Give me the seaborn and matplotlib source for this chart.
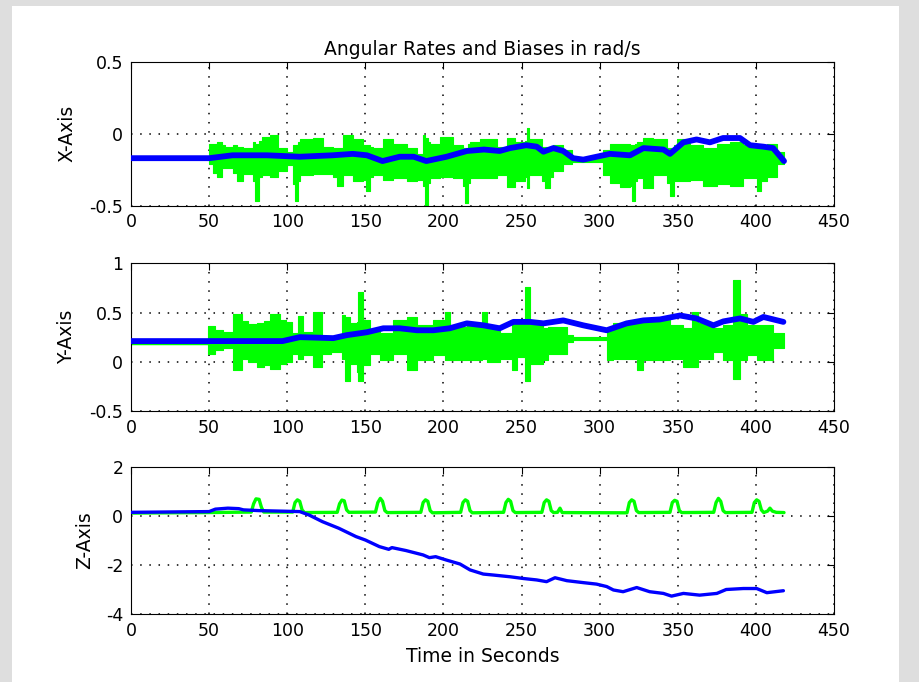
import numpy as np
import pandas as pd
import matplotlib
matplotlib.use("Agg")
import matplotlib.pyplot as plt
from matplotlib.patches import Rectangle
import seaborn as sns

# ---------------- data ----------------
title = "Angular Rates and Biases in rad/s"
xlabel = "Time in Seconds"
ylabels = ["X-Axis", "Y-Axis", "Z-Axis"]
x_ticks = [0, 50, 100, 150, 200, 250, 300, 350, 400, 450]
x_ticklabels = ["0", "50", "100", "150", "200", "250", "300", "350", "400", "450"]
y_ticks_1 = [-0.5, 0, 0.5]
y_ticklabels_1 = ["-0.5", "0", "0.5"]
y_ticks_2 = [-0.5, 0, 0.5, 1]
y_ticklabels_2 = ["-0.5", "0", "0.5", "1"]
y_ticks_3 = [-4, -2, 0, 2]
y_ticklabels_3 = ["-4", "-2", "0", "2"]
data_end = 418

# X-axis: measured rate envelope (segment start, max, min)
x_rate_t = [50, 52.7, 55, 58, 60, 65.5, 68, 72, 78.3, 79.5, 82, 83.6, 89, 94.3, 99.6,
            104, 105, 107, 108, 116.7, 123, 129.5, 132, 136, 142.3, 148.7, 150.5, 153,
            155, 161.5, 168, 176.5, 183, 187, 188, 190, 191.4, 197.8, 206.4, 212.8, 214,
            216, 217, 223.4, 234, 240.5, 245.8, 252.2, 253.5, 255, 262.9, 265, 268, 270.3,
            276.7, 282, 302, 306.6, 313, 319.4, 320.5, 322.5, 323.7, 328, 334.4, 343, 345,
            347.5, 349.3, 357.8, 366.4, 374.9, 383.4, 392, 400.5, 403, 406.9, 413.3]
x_rate_hi = [-0.07, -0.07, -0.06, -0.08, -0.09, -0.08, -0.09, -0.10, -0.06, -0.07, -0.05, -0.02, -0.01, -0.10, -0.13,
             -0.08, -0.08, -0.06, -0.04, -0.03, -0.09, -0.10, -0.10, -0.01, -0.04, -0.08, -0.08, -0.09,
             -0.10, -0.04, -0.07, -0.10, -0.14, -0.01, -0.03, -0.06, -0.07, -0.02, -0.08, -0.10, -0.10,
             -0.07, -0.06, -0.04, -0.09, -0.03, -0.06, -0.05, 0.04, -0.04, -0.09, -0.09, -0.09, -0.08,
             -0.11, -0.17, -0.11, -0.07, -0.07, -0.08, -0.08, -0.07, -0.06, -0.03, -0.04, -0.10, -0.10,
             -0.08, -0.04, -0.08, -0.10, -0.07, -0.06, -0.08, -0.09, -0.09, -0.07, -0.13]
x_rate_lo = [-0.21, -0.27, -0.30, -0.24, -0.24, -0.27, -0.33, -0.28, -0.33, -0.47, -0.30, -0.29, -0.30, -0.26, -0.22,
             -0.35, -0.47, -0.33, -0.29, -0.28, -0.28, -0.30, -0.36, -0.29, -0.33, -0.32, -0.40, -0.30,
             -0.29, -0.32, -0.31, -0.33, -0.32, -0.36, -0.50, -0.34, -0.31, -0.30, -0.31, -0.36, -0.48,
             -0.34, -0.31, -0.31, -0.29, -0.37, -0.33, -0.30, -0.38, -0.29, -0.33, -0.38, -0.30, -0.26,
             -0.21, -0.20, -0.29, -0.34, -0.37, -0.36, -0.47, -0.33, -0.31, -0.38, -0.29, -0.34, -0.43,
             -0.33, -0.33, -0.32, -0.36, -0.35, -0.36, -0.31, -0.40, -0.33, -0.30, -0.21]
x_rate_pre_t = [0, 50]
x_rate_pre = [-0.17, -0.17]
x_bias_t = [0, 50, 65, 87, 108, 129, 142, 151, 161, 172, 181, 189, 202, 215, 226, 236, 242.6,
            253, 259.7, 264, 270.3, 276.7, 283, 289.5, 298, 306.6, 319.4, 328, 340.8, 345, 353.6,
            362, 370.6, 379, 389.8, 396.3, 404.8, 411, 416.5, 418]
x_bias = [-0.17, -0.17, -0.15, -0.15, -0.16, -0.15, -0.14, -0.15, -0.19, -0.16, -0.16, -0.19, -0.16,
          -0.12, -0.11, -0.12, -0.10, -0.08, -0.09, -0.125, -0.10, -0.12, -0.17, -0.18, -0.16, -0.14,
          -0.15, -0.10, -0.11, -0.14, -0.06, -0.04, -0.06, -0.03, -0.03, -0.08, -0.09, -0.10, -0.17, -0.19]

# Y-axis
y_rate_t = [49.5, 53.8, 59.1, 65.5, 70.8, 75, 80.4, 85, 89, 95.4, 99, 102.9, 107.1, 110.3, 116.7,
            122.1, 128, 134.9, 137, 140.2, 144.5, 145.5, 148.7, 153, 159.4, 168, 176.5, 182.9,
            193.6, 201, 204.2, 214.9, 224.5, 227.7, 236.2, 243.7, 246.9, 252.2, 255.4, 263.9,
            267.1, 278.9, 283.1, 304.5, 308.8, 323.7, 328, 345, 353.6, 359, 363.2, 372.8, 379.2,
            385.6, 389.8, 394.1, 400.5, 411.2]
y_rate_hi = [0.36, 0.32, 0.30, 0.49, 0.41, 0.38, 0.39, 0.41, 0.49, 0.42, 0.40, 0.29, 0.46, 0.30, 0.51,
             0.25, 0.26, 0.47, 0.45, 0.39, 0.40, 0.71, 0.42, 0.32, 0.29, 0.42, 0.455, 0.37,
             0.42, 0.51, 0.355, 0.39, 0.51, 0.34, 0.29, 0.39, 0.42, 0.76, 0.37, 0.34,
             0.355, 0.27, 0.25, 0.34, 0.39, 0.42, 0.42, 0.37, 0.34, 0.51, 0.39, 0.34, 0.37,
             0.83, 0.49, 0.37, 0.37, 0.29]
y_rate_lo = [0.08, 0.12, 0.14, -0.08, 0.03, 0.00, -0.05, -0.03, -0.07, -0.02, 0.00, 0.08, 0.03, 0.07, -0.05,
             0.08, 0.10, 0.03, -0.20, -0.02, -0.10, -0.20, -0.03, 0.08, 0.02, 0.08, -0.08, 0.02,
             0.07, 0.02, 0.02, 0.02, 0.03, 0.00, 0.03, -0.08, 0.05, -0.20, -0.02, 0.02,
             0.08, 0.20, 0.22, 0.02, 0.03, -0.08, 0.02, 0.03, -0.05, -0.05, 0.03, 0.10, 0.02,
             -0.17, 0.02, 0.07, 0.02, 0.14]
y_rate_pre_t = [0, 50]
y_rate_pre = [0.19, 0.19]
y_bias_t = [0, 50, 97, 108, 129.5, 138, 151, 161.5, 172, 183, 193.6, 204, 215, 225.6, 236, 244.8,
            255.4, 264, 276.7, 289.5, 304.5, 317.3, 328, 338.6, 351.4, 362, 372.8, 379.2, 389.8,
            398.4, 404.8, 417.6]
y_bias = [0.21, 0.21, 0.21, 0.25, 0.24, 0.27, 0.30, 0.34, 0.34, 0.32, 0.32, 0.34, 0.39, 0.37, 0.34,
          0.405, 0.405, 0.39, 0.42, 0.37, 0.32, 0.39, 0.42, 0.43, 0.47, 0.44, 0.37, 0.41, 0.44,
          0.405, 0.455, 0.405]

# Z-axis
z_rate_t = [0, 48, 77, 78.5, 80, 82, 83.5, 85, 103.5, 105, 106.5, 108, 109.5, 111, 132, 133.5, 135,
            136.5, 138, 139.5, 156.5, 158, 159.6, 161, 162.5, 164, 185.5, 187, 188.5, 190, 191.5,
            193, 211, 212.5, 214, 215.5, 217, 218.5, 238.5, 240, 241.5, 243, 244.5, 246, 263,
            264.5, 266, 267.5, 269, 270.5, 273, 274.6, 276, 317.5, 319, 320.5, 322, 323.5, 325,
            345, 346.5, 348, 349.5, 351, 352.5, 373, 374.5, 376, 377.5, 379, 380.5, 397.5, 399,
            400.5, 402, 403.5, 405, 407.5, 409, 410.5, 413, 418]
z_rate = [0.12, 0.14, 0.16, 0.50, 0.70, 0.68, 0.35, 0.16, 0.16, 0.55, 0.66, 0.60, 0.25, 0.14, 0.15, 0.50, 0.65,
          0.62, 0.25, 0.15, 0.16, 0.55, 0.72, 0.60, 0.22, 0.14, 0.15, 0.55, 0.66, 0.60, 0.22,
          0.13, 0.15, 0.55, 0.66, 0.60, 0.22, 0.13, 0.15, 0.55, 0.68, 0.60, 0.22, 0.14, 0.15,
          0.55, 0.66, 0.60, 0.22, 0.14, 0.15, 0.32, 0.14, 0.13, 0.55, 0.66, 0.60, 0.22, 0.14,
          0.15, 0.55, 0.64, 0.60, 0.22, 0.14, 0.15, 0.55, 0.72, 0.60, 0.22, 0.14, 0.15, 0.55,
          0.66, 0.60, 0.25, 0.14, 0.20, 0.32, 0.20, 0.15, 0.14]
z_bias_t = [0, 50, 54, 62, 69, 72, 82, 95, 108, 114, 122.5, 133, 144, 150, 159, 165, 167, 176, 187,
            191, 195, 202, 210.6, 217, 225.5, 232, 242.6, 251, 259.7, 266, 271.4, 279, 289.6, 298,
            304.5, 308.8, 315, 323.7, 332, 340.8, 346, 353.6, 364, 375, 381, 392, 400.5, 407, 417.6]
z_bias = [0.15, 0.18, 0.28, 0.32, 0.30, 0.25, 0.22, 0.20, 0.18, 0.04, -0.23, -0.50, -0.84, -0.98,
          -1.25, -1.36, -1.29, -1.41, -1.59, -1.70, -1.66, -1.80, -1.96, -2.20, -2.37, -2.41, -2.48,
          -2.55, -2.61, -2.68, -2.52, -2.64, -2.72, -2.78, -2.88, -3.02, -3.09, -2.92, -3.09, -3.16,
          -3.27, -3.16, -3.23, -3.16, -3.00, -2.96, -2.96, -3.13, -3.05]

# ---------------- style ----------------
sns.set_style("white")
plt.rcParams["font.family"] = ["DejaVu Sans"]
plt.rcParams["axes.unicode_minus"] = False

GREEN = "#00ff00"
BLUE = "#0000ff"
W, H = 919, 682

fig = plt.figure(figsize=(W / 100, H / 100), dpi=100, facecolor="#dedede")
fig.patches.append(Rectangle((12 / W, 0), (899 - 12) / W, (H - 6) / H,
                             transform=fig.transFigure, facecolor="white",
                             edgecolor="none", zorder=-10))

left = 131 / W
width = (834 - 131) / W
boxes = [(61.7, 205.7), (263.3, 411.0), (467.0, 614.0)]
ylims = [(-0.5, 0.5), (-0.5, 1.0), (-4, 2)]
yticks = [y_ticks_1, y_ticks_2, y_ticks_3]
yticklabels = [y_ticklabels_1, y_ticklabels_2, y_ticklabels_3]
label_x = [-0.078, -0.078, -0.052]

axes = []
for i, (top, bot) in enumerate(boxes):
    ax = fig.add_axes([left, 1 - bot / H, width, (bot - top) / H])
    ax.set_facecolor("white")
    ax.set_xlim(0, 450)
    ax.set_ylim(*ylims[i])
    ax.set_xticks(x_ticks)
    ax.set_xticklabels(x_ticklabels)
    ax.set_yticks(yticks[i])
    ax.set_yticklabels(yticklabels[i])
    ax.set_axisbelow(True)
    ax.grid(True, color="black", linestyle=(0, (1, 5)), linewidth=1.1)
    ax.tick_params(axis="both", direction="in", length=5, width=0.8, colors="black",
                   top=True, right=True, labelsize=12.5)
    ax.tick_params(axis="x", pad=5.5)
    ax.tick_params(axis="y", pad=5.5)
    for s in ax.spines.values():
        s.set_color("black")
        s.set_linewidth(0.8)
        s.set_visible(True)
    ax.set_ylabel(ylabels[i], fontsize=13.5, color="black")
    ax.yaxis.set_label_coords(label_x[i], 0.5)
    axes.append(ax)


def band(ax, t, hi, lo):
    te = list(t) + [data_end]
    he = list(hi) + [hi[-1]]
    le = list(lo) + [lo[-1]]
    ax.fill_between(te, le, he, step="post", color=GREEN, linewidth=0.8,
                    edgecolor=GREEN, zorder=2)


# X panel
ax = axes[0]
sns.lineplot(x=x_rate_pre_t, y=x_rate_pre, ax=ax, color=GREEN, linewidth=2.5,
             estimator=None, sort=False, zorder=2)
band(ax, x_rate_t, x_rate_hi, x_rate_lo)
sns.lineplot(x=x_bias_t, y=x_bias, ax=ax, color=BLUE, linewidth=4.2,
             estimator=None, sort=False, zorder=3)

# Y panel
ax = axes[1]
sns.lineplot(x=y_rate_pre_t, y=y_rate_pre, ax=ax, color=GREEN, linewidth=2.5,
             estimator=None, sort=False, zorder=2)
band(ax, y_rate_t, y_rate_hi, y_rate_lo)
sns.lineplot(x=y_bias_t, y=y_bias, ax=ax, color=BLUE, linewidth=4.2,
             estimator=None, sort=False, zorder=3)

# Z panel
ax = axes[2]
sns.lineplot(x=z_rate_t, y=z_rate, ax=ax, color=GREEN, linewidth=2.4,
             estimator=None, sort=False, zorder=2)
sns.lineplot(x=z_bias_t, y=z_bias, ax=ax, color=BLUE, linewidth=2.4,
             estimator=None, sort=False, zorder=3)

for ax in axes:
    ax.set_xlim(0, 450)
    ax.set_xlabel("")

axes[0].set_title(title, fontsize=13.5, pad=5, color="black")
axes[2].set_xlabel(xlabel, fontsize=13.5, labelpad=5, color="black")

fig.savefig("out.png", dpi=100, facecolor=fig.get_facecolor())
